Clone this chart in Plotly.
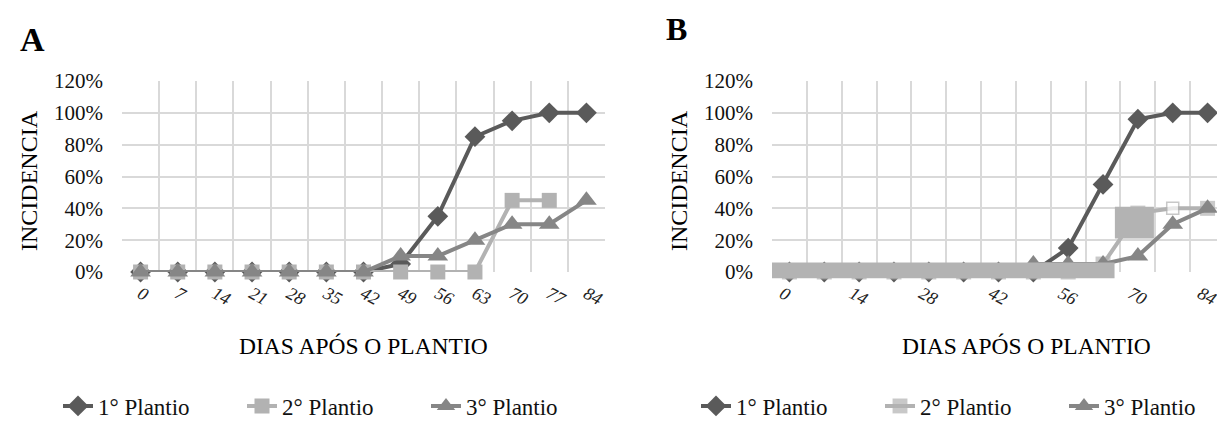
import plotly.graph_objects as go

# ---------------- data ----------------
days = [0, 7, 14, 21, 28, 35, 42, 49, 56, 63, 70, 77, 84]
day_labels = [str(d) for d in days]

a_plantio1 = [0, 0, 0, 0, 0, 0, 0, 0.05, 0.35, 0.85, 0.95, 1.00, 1.00]
a_plantio2 = [0, 0, 0, 0, 0, 0, 0, 0, 0, 0, 0.45, 0.45, None]
a_plantio3 = [0, 0, 0, 0, 0, 0, 0, 0.10, 0.10, 0.20, 0.30, 0.30, 0.45]

b_plantio1 = [0, 0, 0, 0, 0, 0, 0, 0, 0.15, 0.55, 0.96, 1.00, 1.00]
b_plantio2 = [0, 0, 0, 0, 0, 0, 0, 0, 0, 0.05, 0.37, 0.40, 0.40]
b_plantio3 = [0, 0, 0, 0, 0, 0, 0, 0.05, 0.05, 0.05, 0.10, 0.30, 0.40]

series_names = ["1° Plantio", "2° Plantio", "3° Plantio"]
y_ticks = [0, 0.2, 0.4, 0.6, 0.8, 1.0, 1.2]
y_tick_labels = ["0%", "20%", "40%", "60%", "80%", "100%", "120%"]

# ---------------- styles ----------------
W, H = 1225, 422
FONT = "Liberation Serif"
C1, C2, C3 = "#5a5a5a", "#b2b2b2", "#868686"
GRID = "#d9d9d9"
idx = list(range(len(days)))

def px(x):
    return x / W

def py(y):
    return 1 - y / H

fig = go.Figure()

def add_series(xa, ya, vals, name, color, symbol, size, legend, col_arr=None, lw_arr=None):
    marker = dict(symbol=symbol, size=size,
                  color=col_arr if col_arr else color,
                  line=dict(color=color, width=lw_arr if lw_arr else 0))
    fig.add_trace(go.Scatter(x=idx, y=vals, mode="lines+markers", name=name,
                             line=dict(color=color, width=4), marker=marker,
                             xaxis=xa, yaxis=ya, legend=legend, connectgaps=False,
                             cliponaxis=False))

# Panel A
add_series("x", "y", a_plantio1, series_names[0], C1, "diamond", 16, "legend")
add_series("x", "y", a_plantio2, series_names[1], C2, "square", 15, "legend")
add_series("x", "y", a_plantio3, series_names[2], C3, "triangle-up", 18, "legend")

# Panel B
n = len(days)
col2 = [C2] * n
lw2 = [0] * n
col2[11] = "white"
lw2[11] = 1.5
add_series("x2", "y2", b_plantio1, series_names[0], C1, "diamond", 16, "legend2")
add_series("x2", "y2", b_plantio2, series_names[1], C2, "square", [15] * 11 + [12, 15], "legend2",
           col_arr=col2, lw_arr=lw2)
add_series("x2", "y2", b_plantio3, series_names[2], C3, "triangle-up", 18, "legend2")

xdomA = [px(114), px(597)]
xdomB = [px(764), px(1217)]
ydom = [py(264), py(73)]

def xaxis_cfg(domain, tick_every, anchor, shift):
    tv = idx[::tick_every]
    return dict(domain=domain, anchor=anchor, range=[-0.5, len(days) - 0.5], automargin=False,
                tickmode="array", tickvals=tv, ticktext=[day_labels[i] for i in tv],
                showgrid=False, zeroline=False, showline=False,
                tickangle=28, ticks="", ticklabelstandoff=7, ticklabelshift=shift,
                tickfont=dict(family=FONT, size=18, color="#222", style="italic"),
                minor=dict(tickmode="array", tickvals=[i - 0.5 for i in range(len(days) + 1)],
                           showgrid=True, gridcolor=GRID, gridwidth=1.5, ticks=""))

def yaxis_cfg(anchor):
    return dict(domain=ydom, anchor=anchor, range=[0, 1.2], tickmode="array", automargin=False,
                tickvals=y_ticks, ticktext=y_tick_labels, showgrid=True,
                gridcolor=GRID, gridwidth=1.5, zeroline=False, showline=False,
                ticks="", ticklabelstandoff=18,
                tickfont=dict(family=FONT, size=21, color="#111"))

leg_common = dict(orientation="h", yanchor="middle", xanchor="left",
                  font=dict(family=FONT, size=23, color="#111"), itemwidth=30,
                  entrywidth=139, entrywidthmode="pixels", bgcolor="rgba(0,0,0,0)",
                  tracegroupgap=0)

layout = dict(
    template="none",
    width=W, height=H, margin=dict(l=0, r=0, t=0, b=0, autoexpand=False),
    paper_bgcolor="white", plot_bgcolor="white",
    xaxis=xaxis_cfg(xdomA, 1, "y", 0), yaxis=yaxis_cfg("x"),
    xaxis2=xaxis_cfg(xdomB, 2, "y2", -7), yaxis2=yaxis_cfg("x2"),
    showlegend=True,
    legend=dict(x=px(50), y=py(398), **leg_common),
    legend2=dict(x=px(688), y=py(398), **leg_common),
)
fig.update_layout(**layout)

# overlay patches visible in panel B
fig.add_shape(type="rect", xref="x2", yref="y2 domain", x0=-0.6, x1=9.33,
              y0=-0.04 / 1.2, y1=0.06 / 1.2, fillcolor="#b3b3b3", line_width=0, layer="above")
fig.add_shape(type="rect", xref="x2", yref="y2", x0=9.34, x1=10.46,
              y0=0.21, y1=0.41, fillcolor="#b3b3b3", line_width=0, layer="above")

ann = [
    dict(text="<b>A</b>", x=px(10), y=py(31), xanchor="left", yanchor="middle", size=34),
    dict(text="<b>B</b>", x=px(656), y=py(21), xanchor="left", yanchor="middle", size=32),
    dict(text="DIAS APÓS O PLANTIO", x=px(355), y=py(338), xanchor="center", yanchor="middle", size=23.5),
    dict(text="DIAS APÓS O PLANTIO", x=px(1018), y=py(338), xanchor="center", yanchor="middle", size=23.5),
]
for a in ann:
    fig.add_annotation(text=a["text"], x=a["x"], y=a["y"], xref="paper", yref="paper",
                       xanchor=a["xanchor"], yanchor=a["yanchor"], showarrow=False,
                       font=dict(family=FONT, size=a["size"], color="#000"))
for xx in (px(21), px(671)):
    fig.add_annotation(text="INCIDENCIA", x=xx, y=py(173), xref="paper", yref="paper",
                       textangle=-90, showarrow=False, xanchor="center", yanchor="middle",
                       font=dict(family=FONT, size=24, color="#000"))

fig.write_html("out.html")
